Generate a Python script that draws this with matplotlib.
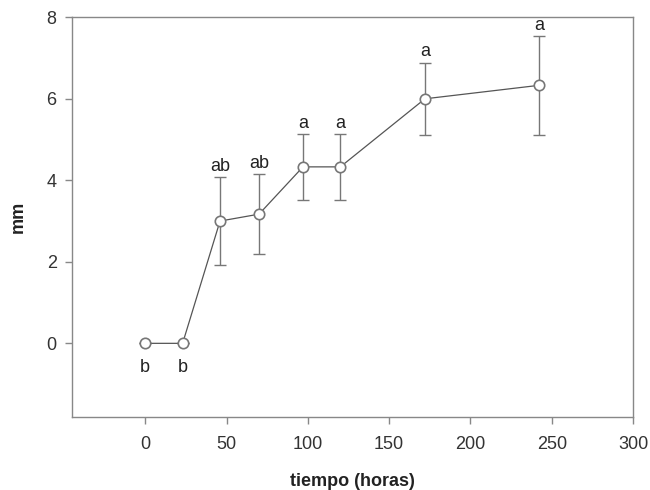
import matplotlib
matplotlib.use('Agg')
import matplotlib.pyplot as plt

plt.rcParams['font.family'] = ['Liberation Sans', 'DejaVu Sans']

# data
horas = [0, 23, 46, 70, 97, 120, 172, 242]
mm = [0.0, 0.0, 3.0, 3.17, 4.33, 4.33, 6.0, 6.33]
err = [0.0, 0.0, 1.09, 0.99, 0.81, 0.81, 0.89, 1.21]
letras = ['b', 'b', 'ab', 'ab', 'a', 'a', 'a', 'a']

fig = plt.figure(figsize=(6.5, 4.9), dpi=100)
ax = fig.add_axes([0.1108, 0.1496, 0.974 - 0.1108, 0.9647 - 0.1496])

ax.errorbar(horas, mm, yerr=err, fmt='none', ecolor='#777777',
            elinewidth=1.0, capsize=4.5, capthick=1.0, zorder=2)
ax.plot(horas, mm, color='#555555', lw=0.9, marker='o', ms=7.5,
        mfc='white', mec='#777777', mew=1.2, zorder=3)

for x, y, e, t in zip(horas, mm, err, letras):
    if t == 'b':
        ax.annotate(t, (x, y), xytext=(0, -11), textcoords='offset points',
                    ha='center', va='top', fontsize=13, color='#222222')
    else:
        ax.annotate(t, (x, y + e), xytext=(0, 1.5), textcoords='offset points',
                    ha='center', va='bottom', fontsize=13, color='#222222')

ax.set_xlim(-45, 300)
ax.set_ylim(-1.8, 8)
ax.set_xticks([0, 50, 100, 150, 200, 250, 300])
ax.set_yticks([0, 2, 4, 6, 8])

for s in ax.spines.values():
    s.set_color('#888888')
    s.set_linewidth(1.0)

ax.tick_params(axis='both', direction='out', length=5, width=1.0,
               color='#888888', labelsize=13, labelcolor='#333333', pad=9)
ax.tick_params(axis='y', pad=6)

ax.set_xlabel('tiempo (horas)', fontsize=13, fontweight='bold',
              color='#222222', labelpad=14)
ax.set_ylabel('mm', fontsize=13, fontweight='bold', color='#222222',
              labelpad=22)
ax.yaxis.set_label_coords(-0.08, 0.5)

fig.savefig('out.png', dpi=100)
